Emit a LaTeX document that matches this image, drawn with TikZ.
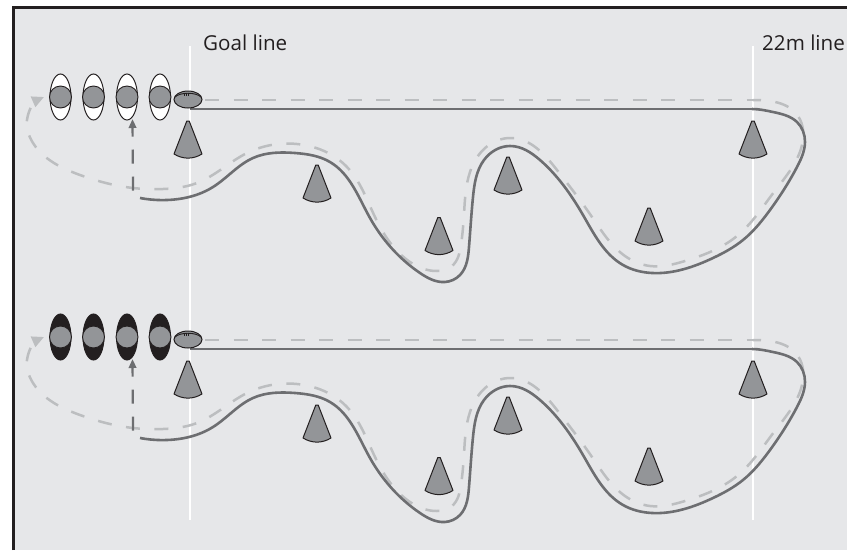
\documentclass[tikz,border=0pt]{standalone}
\usepackage{fontspec}
\setmainfont{Open Sans}
\usetikzlibrary{arrows.meta,hobby}
\definecolor{fieldbg}{HTML}{E6E7E9}
\definecolor{framec}{HTML}{231F20}
\definecolor{conegrey}{HTML}{939598}
\definecolor{runsolid}{HTML}{6D6E71}
\definecolor{rundash}{HTML}{BCBEC0}
\tikzset{
  conestyle/.style={fill=conegrey,draw=framec,line width=1pt,line join=round},
  solidrun/.style={draw=runsolid,line width=2.6pt},
  dashrun/.style={draw=rundash,line width=2.5pt,dash pattern=on 14pt off 14.5pt},
  supportrun/.style={draw=runsolid,line width=2.2pt,dash pattern=on 14pt off 13pt},
  fieldline/.style={draw=white,line width=2.4pt},
  linelabel/.style={font=\fontsize{20.6}{24}\selectfont,text=framec,anchor=base west,inner sep=0pt},
  head/.style={fill=conegrey,draw=framec,line width=.9pt},
}
\newcommand{\conemark}[2]{%
  \draw[conestyle] (#1-1.2,#2) -- (#1+1.2,#2) -- (#1+14,#2+33) .. controls (#1+5,#2+38.5) and (#1-5,#2+38.5) .. (#1-14,#2+33) -- cycle;}
\newcommand{\playermark}[3]{%
  \draw[fill=#3,draw=framec,line width=1pt] (#1,#2) ellipse [x radius=10.5pt,y radius=23pt];
  \draw[head] (#1,#2) circle [radius=11pt];}
\newcommand{\drillset}[2]{% offset, body colour
\begin{scope}[yshift=-#1pt]
  % dashed return run
  \draw[dashrun] (205,100) -- (753,100);
  \draw[dashrun,dash phase=6pt,-{Triangle[length=12pt,width=11pt,fill=rundash]},use Hobby shortcut]
    ([out angle=0]753,100) .. (798,116) .. (802,145) .. (774,192) .. (737,236) .. (685,261) .. (650,266) .. (625,256) .. (592,217) .. (557,170) .. (512,138) .. (483,150) .. (470,172) .. (464,214) .. (461,245) .. (452,266) .. (437,271) .. (410,262) .. (375,217) .. (347,167) .. (297,144) .. (247,153) .. (197,183) .. (163,189) .. (133,188) .. (80,175) .. (33,143) .. (27,120) .. (44,97);
  % solid run
  \draw[solidrun,use Hobby shortcut]
    (140,198) .. (167,200) .. (213,187) .. (253,158) .. (295,153) .. (330,162) .. (370,218) .. (420,273) .. (445,282) .. (460,275) .. (469,247) .. (473,197) .. (484,160) .. (510,146) .. (540,160) .. (583,215) .. (623,265) .. (652,273) .. (713,258) .. (743,240) .. (770,210) .. (797,167) .. (805,142) .. (797,122) .. (773,112) .. ([in angle=0]752,109);
  \draw[solidrun] (752,109) -- (190,109);
  % support run
  \draw[supportrun,-{Triangle[length=9pt,width=7.5pt,fill=runsolid]}] (133,190.5) -- (132.5,119);
  % players
  \playermark{60.5}{97}{#2}
  \playermark{93.5}{97}{#2}
  \playermark{127}{97}{#2}
  \playermark{160}{97}{#2}
  % ball
  \draw[fill=conegrey,draw=framec,line width=1pt] (188,99.5) ellipse [x radius=14pt,y radius=8.5pt];
  \draw[framec,line width=.9pt] (175,97) .. controls (180,92) and (196,92) .. (201,97);
  \draw[framec,line width=.7pt] (184,92.5) -- (184,96) (186,92.5) -- (186,96) (188,92.5) -- (188,96);
  % cones
  \conemark{188}{121}
  \conemark{317}{165}
  \conemark{439}{217.5}
  \conemark{508}{157}
  \conemark{649}{208}
  \conemark{753}{121}
\end{scope}}
\begin{document}
\begin{tikzpicture}[x=1pt,y=-1pt]
  \useasboundingbox (0,0) rectangle (847,550);
  \fill[white] (0,0) rectangle (847,550);
  \fill[fieldbg] (13,7) rectangle (847,550);
  \draw[framec,line width=2.6pt] (13.3,550) -- (13.3,7.3) -- (847,7.3);
  \draw[fieldline] (190,46) -- (190,520);
  \draw[fieldline] (753,46) -- (753,520);
  \node[linelabel] (goal) at (203,50) {Goal line};
  \begin{scope}
    \clip (0,0) rectangle (846,550);
    \node[linelabel] (twentytwo) at (762,50) {22m line};
  \end{scope}
  \drillset{0}{white}
  \drillset{240}{framec}
\end{tikzpicture}
\end{document}
